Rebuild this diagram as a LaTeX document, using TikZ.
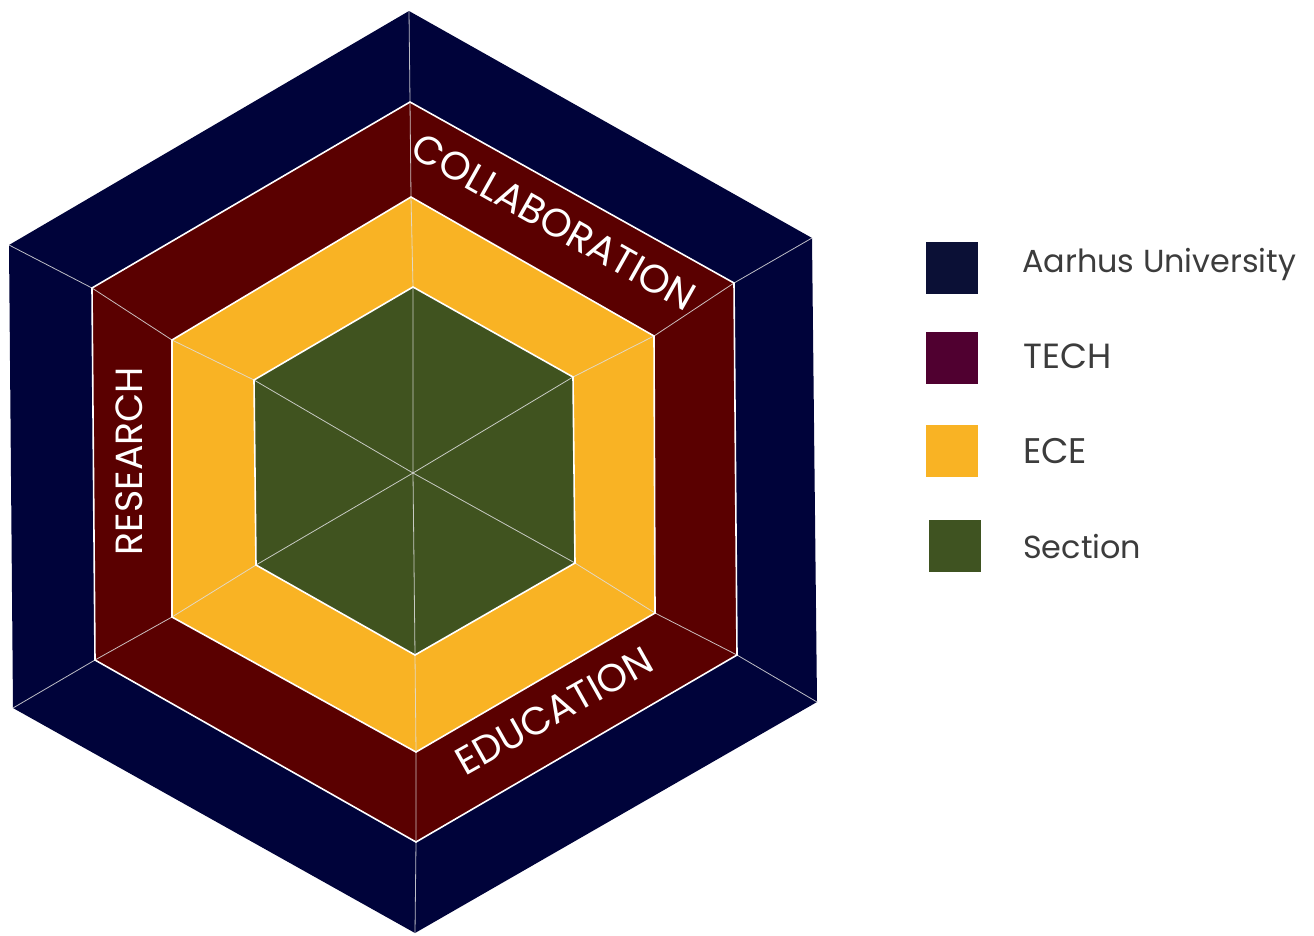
\documentclass[tikz,border=0pt]{standalone}
\usepackage{fontspec}
\setmainfont{Poppins}
\usepackage{graphicx}
\definecolor{aunavy}{RGB}{0,3,58}
\definecolor{techred}{RGB}{90,0,0}
\definecolor{eceyel}{RGB}{249,179,36}
\definecolor{secgreen}{RGB}{64,83,31}
\definecolor{lgnavy}{RGB}{11,16,54}
\definecolor{lgtech}{RGB}{80,0,48}
\definecolor{lgece}{RGB}{249,179,36}
\definecolor{lgsec}{RGB}{63,83,33}
\definecolor{lgtext}{RGB}{60,60,60}
\begin{document}
\begin{tikzpicture}[x=1pt,y=-1pt,
  layer/.style={draw=white, line width=1.6pt, line join=miter},
  spoke/.style={draw=white!75!gray, line width=0.8pt, opacity=0.85},
  bandlbl/.style={text=white, inner sep=0pt},
  sq/.style={minimum size=52pt, inner sep=0pt, draw=none},
  lgl/.style={text=lgtext, anchor=base west, inner sep=0pt}]
\useasboundingbox (0,0) rectangle (1314,935);
% outer (Aarhus University)
\coordinate (o1) at (409,11);
\coordinate (o2) at (812,238);
\coordinate (o3) at (817,702);
\coordinate (o4) at (415,933);
\coordinate (o5) at (13,708);
\coordinate (o6) at (9,245);
% TECH
\coordinate (t1) at (410,102);
\coordinate (t2) at (734,283);
\coordinate (t3) at (737,655);
\coordinate (t4) at (416,842);
\coordinate (t5) at (95,660);
\coordinate (t6) at (92,288);
% ECE
\coordinate (e1) at (411,197);
\coordinate (e2) at (654,336);
\coordinate (e3) at (655,613);
\coordinate (e4) at (416,752);
\coordinate (e5) at (172,617);
\coordinate (e6) at (172,340);
% Section
\coordinate (g1) at (413,287);
\coordinate (g2) at (573,377);
\coordinate (g3) at (575,563);
\coordinate (g4) at (415,655);
\coordinate (g5) at (256,565);
\coordinate (g6) at (254,380);
\coordinate (c) at (413,473);
% fills
\fill[aunavy] (o1) -- (o2) -- (o3) -- (o4) -- (o5) -- (o6) -- cycle;
\fill[techred] (t1) -- (t2) -- (t3) -- (t4) -- (t5) -- (t6) -- cycle;
\fill[eceyel] (e1) -- (e2) -- (e3) -- (e4) -- (e5) -- (e6) -- cycle;
\fill[secgreen] (g1) -- (g2) -- (g3) -- (g4) -- (g5) -- (g6) -- cycle;
% spokes
\foreach \k in {1,...,6}{
  \draw[spoke] (o\k) -- (t\k) -- (e\k) -- (g\k) -- (c);
}
% borders
\draw[layer] (t1) -- (t2) -- (t3) -- (t4) -- (t5) -- (t6) -- cycle;
\draw[layer] (e1) -- (e2) -- (e3) -- (e4) -- (e5) -- (e6) -- cycle;
\draw[layer] (g1) -- (g2) -- (g3) -- (g4) -- (g5) -- (g6) -- cycle;
% band labels
\node[bandlbl, rotate=-29.4] (collab) at (554,222) {\resizebox{318pt}{!}{COLLABORATION}};
\node[bandlbl, rotate=90] (research) at (129,461) {\resizebox{188pt}{!}{RESEARCH}};
\node[bandlbl, rotate=29.4] (educ) at (554,711) {\resizebox{219pt}{!}{EDUCATION}};
% legend
\node[sq, fill=lgnavy] (sqau) at (952,267.5) {};
\node[sq, fill=lgtech] (sqtech) at (952,358) {};
\node[sq, fill=lgece] (sqece) at (952,451) {};
\node[sq, fill=lgsec] (sqsec) at (954.5,546) {};
\node[lgl] (lau) at (1022,272.7) {\resizebox{274pt}{!}{Aarhus University}};
\node[lgl] (ltech) at (1023,368) {\resizebox{88pt}{!}{TECH}};
\node[lgl] (lece) at (1023,463) {\resizebox{64pt}{!}{ECE}};
\node[lgl] (lsec) at (1023,558) {\resizebox{118pt}{!}{Section}};
\end{tikzpicture}
\end{document}
